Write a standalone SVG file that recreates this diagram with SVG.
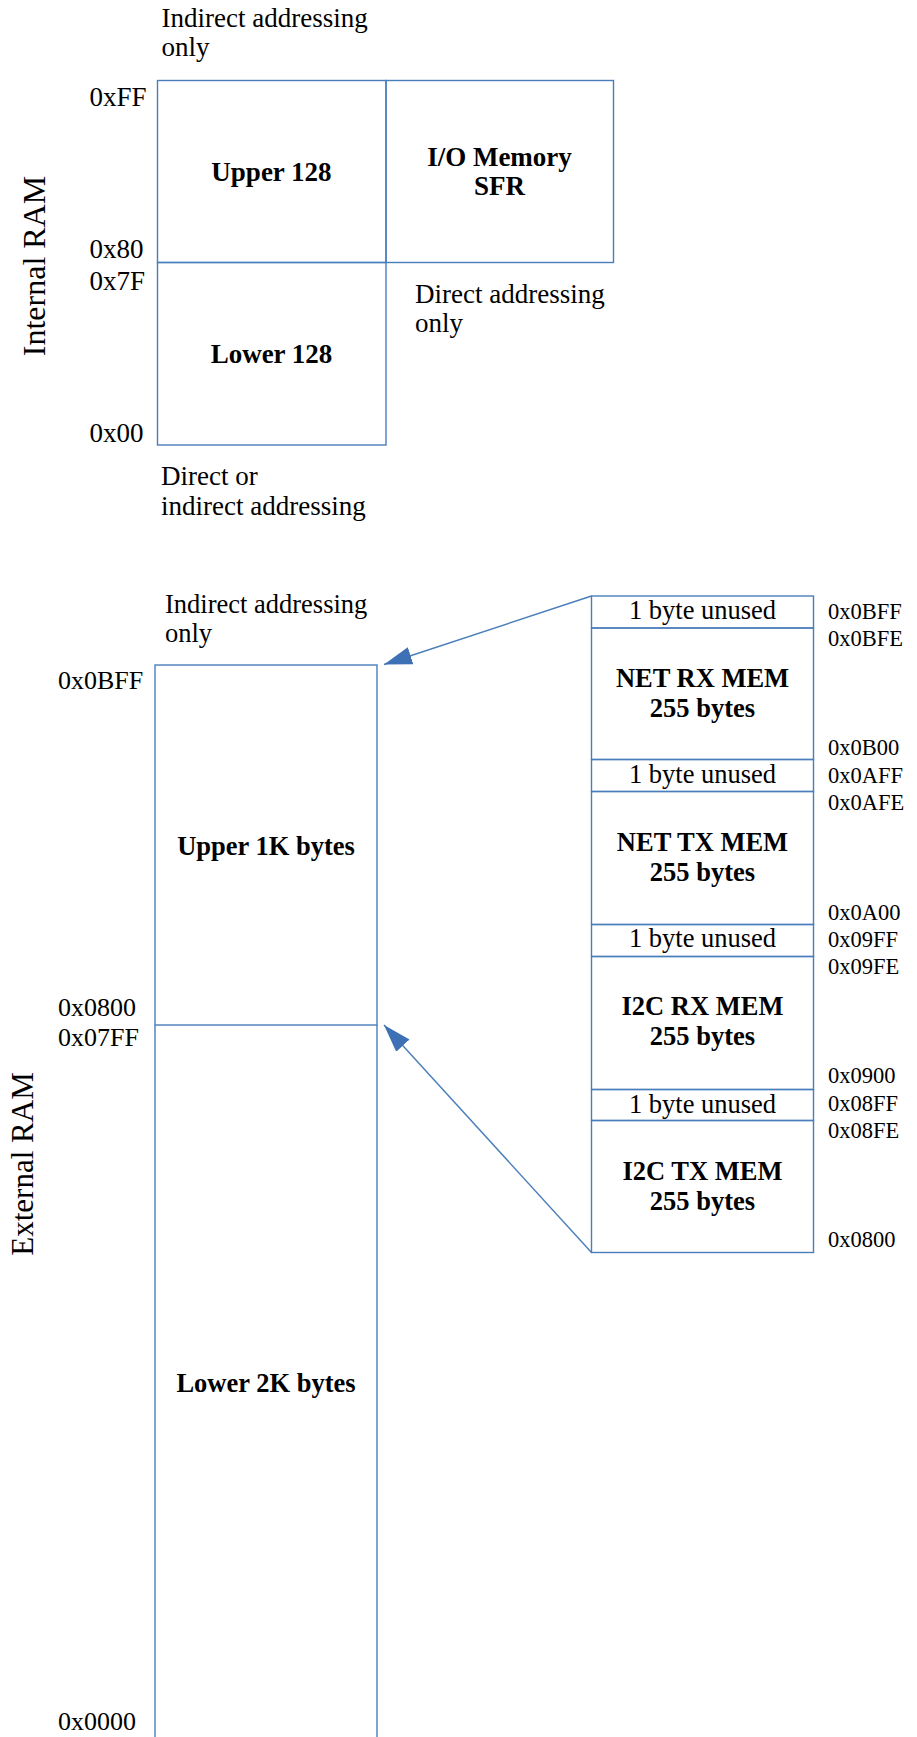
<svg xmlns="http://www.w3.org/2000/svg" width="917" height="1737" viewBox="0 0 917 1737">
<defs>
<style>
.box{fill:none;stroke:#4a7ebb;stroke-width:1.4}
.conn{fill:none;stroke:#4a7ebb;stroke-width:1.4}
.t{font-family:"Liberation Serif","Times New Roman",serif;fill:#000}
.r27{font-size:27px}
.b27{font-size:27px;font-weight:bold}
.r23{font-size:22.5px}
.r26{font-size:26.5px}
.b26{font-size:26.5px;font-weight:bold}
.mid{text-anchor:middle}
</style>
<marker id="ah" markerUnits="userSpaceOnUse" markerWidth="30" markerHeight="20" refX="28" refY="9" orient="auto">
<path d="M0,0 L28,9 L0,18 Z" fill="#3e70b5"/>
</marker>
</defs>
<rect width="917" height="1737" fill="#fff"/>

<g id="internal-ram">
<text class="t" font-size="32" transform="translate(45,266) rotate(-90)" text-anchor="middle">Internal RAM</text>
<text class="t r27" x="161.5" y="27">Indirect addressing</text>
<text class="t r27" x="161.5" y="56">only</text>
<text class="t r27" x="89.5" y="106">0xFF</text>
<text class="t r27" x="89.5" y="258">0x80</text>
<text class="t r27" x="89.5" y="290">0x7F</text>
<text class="t r27" x="89.5" y="442">0x00</text>
<text class="t r27" x="415" y="303">Direct addressing</text>
<text class="t r27" x="415" y="332">only</text>
<text class="t r27" x="161" y="485">Direct or</text>
<text class="t r27" x="161" y="515">indirect addressing</text>
</g>
<g id="upper128">
<rect class="box" x="157.5" y="80.5" width="228.5" height="182"/>
<text class="t b27 mid" x="271.5" y="181">Upper 128</text>
</g>
<g id="io-sfr">
<rect class="box" x="386" y="80.5" width="227.5" height="182"/>
<text class="t b27 mid" x="499.5" y="166">I/O Memory</text>
<text class="t b27 mid" x="499.5" y="195">SFR</text>
</g>
<g id="lower128">
<rect class="box" x="157.5" y="262.5" width="228.5" height="182.5"/>
<text class="t b27 mid" x="271.5" y="363">Lower 128</text>
</g>

<g id="external-ram">
<text class="t" font-size="31" transform="translate(33,1164) rotate(-90)" text-anchor="middle">External RAM</text>
<text class="t r26" x="165" y="613">Indirect addressing</text>
<text class="t r26" x="165" y="642">only</text>
<text class="t" font-size="26" x="58" y="689">0x0BFF</text>
<text class="t" font-size="26" x="58" y="1016">0x0800</text>
<text class="t" font-size="26" x="58" y="1046">0x07FF</text>
<text class="t" font-size="26" x="58" y="1730">0x0000</text>
</g>
<g id="upper1k">
<rect class="box" x="155" y="665" width="222" height="360"/>
<text class="t b26 mid" x="266" y="855">Upper 1K bytes</text>
</g>
<g id="lower2k">
<path class="box" d="M155,1025 V1740 M377,1025 V1740"/>
<text class="t b26 mid" x="266" y="1392">Lower 2K bytes</text>
</g>

<g id="net-rx-unused">
<rect class="box" x="591.5" y="596" width="222" height="32"/>
<text class="t r26 mid" x="702.5" y="619">1 byte unused</text>
</g>
<g id="net-rx">
<rect class="box" x="591.5" y="628" width="222" height="131.5"/>
<text class="t b26 mid" x="702.5" y="687">NET RX MEM</text>
<text class="t b26 mid" x="702.5" y="717">255 bytes</text>
</g>
<g id="net-tx-unused">
<rect class="box" x="591.5" y="759.5" width="222" height="32"/>
<text class="t r26 mid" x="702.5" y="783">1 byte unused</text>
</g>
<g id="net-tx">
<rect class="box" x="591.5" y="791.5" width="222" height="133"/>
<text class="t b26 mid" x="702.5" y="851">NET TX MEM</text>
<text class="t b26 mid" x="702.5" y="881">255 bytes</text>
</g>
<g id="i2c-rx-unused">
<rect class="box" x="591.5" y="924.5" width="222" height="32"/>
<text class="t r26 mid" x="702.5" y="947">1 byte unused</text>
</g>
<g id="i2c-rx">
<rect class="box" x="591.5" y="956.5" width="222" height="133"/>
<text class="t b26 mid" x="702.5" y="1015">I2C RX MEM</text>
<text class="t b26 mid" x="702.5" y="1045">255 bytes</text>
</g>
<g id="i2c-tx-unused">
<rect class="box" x="591.5" y="1089.5" width="222" height="31"/>
<text class="t r26 mid" x="702.5" y="1113">1 byte unused</text>
</g>
<g id="i2c-tx">
<rect class="box" x="591.5" y="1120.5" width="222" height="132"/>
<text class="t b26 mid" x="702.5" y="1180">I2C TX MEM</text>
<text class="t b26 mid" x="702.5" y="1210">255 bytes</text>
</g>

<g id="right-addresses">
<text class="t r23" x="828" y="619">0x0BFF</text>
<text class="t r23" x="828" y="646">0x0BFE</text>
<text class="t r23" x="828" y="755">0x0B00</text>
<text class="t r23" x="828" y="783">0x0AFF</text>
<text class="t r23" x="828" y="810">0x0AFE</text>
<text class="t r23" x="828" y="920">0x0A00</text>
<text class="t r23" x="828" y="947">0x09FF</text>
<text class="t r23" x="828" y="974">0x09FE</text>
<text class="t r23" x="828" y="1083">0x0900</text>
<text class="t r23" x="828" y="1111">0x08FF</text>
<text class="t r23" x="828" y="1138">0x08FE</text>
<text class="t r23" x="828" y="1247">0x0800</text>
</g>

<g id="connectors">
<line class="conn" x1="591.5" y1="596" x2="384" y2="664.5" marker-end="url(#ah)"/>
<line class="conn" x1="591.5" y1="1252.5" x2="384" y2="1025" marker-end="url(#ah)"/>
</g>
</svg>
